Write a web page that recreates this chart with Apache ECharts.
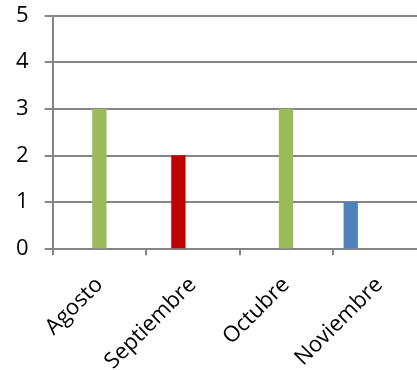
<!DOCTYPE html>
<html>
<head>
<meta charset="utf-8">
<script src="https://cdn.jsdelivr.net/npm/echarts@6/dist/echarts.min.js"></script>
<style>html,body{margin:0;padding:0;background:#fff}#c{width:417px;height:370px}</style>
</head>
<body>
<div id="c"></div>
<script>
var categories = ['Agosto', 'Septiembre', 'Octubre', 'Noviembre'];
var serieAzul = [null, null, null, 1];
var serieRoja = [null, 2, null, null];
var serieVerde = [3, null, 3, null];
var serieVacia4 = [null, null, null, null];
var serieVacia5 = [null, null, null, null];
var yTicks = [0, 1, 2, 3, 4, 5];

var chart = echarts.init(document.getElementById('c'), null, {renderer: 'canvas'});
var font = 'Open Sans';
function bar(name, data, color) {
  return {name: name, type: 'bar', data: data, barGap: '0%', barCategoryGap: '23.4%',
    itemStyle: {color: color}, animation: false};
}
chart.setOption({
  animation: false,
  grid: {left: 52.7, width: 373.3, top: 15.7, height: 232.6, containLabel: false, outerBoundsMode: 'none'},
  xAxis: {
    type: 'category', data: categories,
    axisLine: {lineStyle: {color: '#868686', width: 2}},
    axisTick: {show: true, length: 7, lineStyle: {color: '#868686', width: 2}},
    axisLabel: {rotate: 45, margin: 33, fontFamily: font, fontSize: 22, color: '#000', interval: 0}
  },
  yAxis: {
    type: 'value', min: yTicks[0], max: yTicks[yTicks.length - 1], interval: 1,
    axisLine: {show: true, lineStyle: {color: '#868686', width: 2}},
    axisTick: {show: true, length: 8, lineStyle: {color: '#868686', width: 2}},
    splitLine: {lineStyle: {color: '#868686', width: 2}},
    axisLabel: {margin: 24, fontFamily: font, fontSize: 22, color: '#000'}
  },
  series: [
    bar('Azul', serieAzul, '#4F81BD'),
    bar('Roja', serieRoja, '#C00000'),
    bar('Verde', serieVerde, '#9BBB59'),
    bar('S4', serieVacia4, '#8064A2'),
    bar('S5', serieVacia5, '#4BACC6')
  ]
});
</script>
</body>
</html>
